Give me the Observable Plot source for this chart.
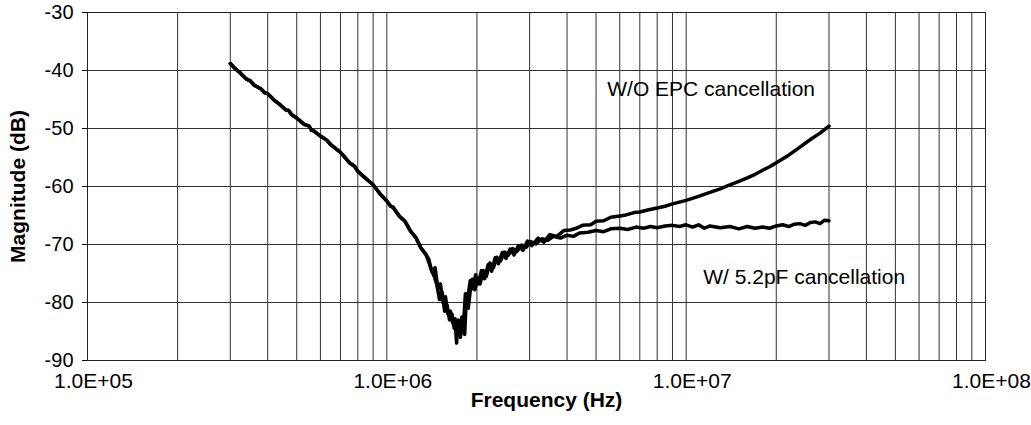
<!DOCTYPE html>
<html><head><meta charset="utf-8">
<script src="https://cdn.jsdelivr.net/npm/d3@7"></script>
<script src="https://cdn.jsdelivr.net/npm/@observablehq/plot@0.6"></script>
<style>
html,body{margin:0;padding:0;background:#fff;}
#chart svg{display:block;}
</style></head><body><div id="chart"></div>
<script>
// Axis ticks and labels
const xTicks = [1e5, 1e6, 1e7, 1e8];
const xTickLabels = ["1.0E+05", "1.0E+06", "1.0E+07", "1.0E+08"];
const yTicks = [-90, -80, -70, -60, -50, -40, -30];
const yTickLabels = ["-90", "-80", "-70", "-60", "-50", "-40", "-30"];
const xTitle = "Frequency (Hz)";
const yTitle = "Magnitude (dB)";

// Common part of both measured curves (Hz, dB)
const sharedFreq = [3.0e5,3.1e5,3.25e5,3.4e5,3.5e5,3.6e5,3.8e5,3.9e5,4.0e5,4.2e5,4.4e5,4.6e5,4.7e5,4.8e5,5.0e5,5.3e5,5.5e5,5.6e5,5.7e5,6.0e5,6.3e5,6.5e5,7.0e5,7.5e5,7.8e5,8.0e5,8.5e5,9.0e5,9.5e5,1.0e6,1.03e6,1.05e6,1.1e6,1.15e6,1.2e6,1.25e6,1.3e6,1.35e6];
const sharedDb   = [-38.8,-39.6,-40.5,-41.5,-41.8,-42.5,-43.2,-43.8,-44.0,-45.1,-45.9,-46.8,-46.9,-47.6,-48.2,-49.3,-49.6,-50.3,-50.4,-51.3,-52.0,-52.8,-54.1,-55.9,-56.5,-57.4,-58.6,-59.7,-61.3,-62.5,-63.4,-63.6,-65.1,-66.0,-67.7,-68.8,-70.6,-71.7];

// W/O EPC cancellation
const woFreq = [1.38e6,1.42e6,1.45e6,1.48e6,1.51e6,1.54e6,1.57e6,1.60e6,1.63e6,1.66e6,1.69e6,1.71e6,1.73e6,1.75e6,1.78e6,1.80e6,1.83e6,1.86e6,1.90e6,1.94e6,1.98e6,2.02e6,2.07e6,2.12e6,2.18e6,2.24e6,2.30e6,2.36e6,2.43e6,2.50e6,2.58e6,2.66e6,2.75e6,2.85e6,2.95e6,3.05e6,3.2e6,3.35e6,3.5e6,3.7e6,3.9e6,4.1e6,4.3e6,4.5e6,4.8e6,5.0e6,5.3e6,5.6e6,6.0e6,6.3e6,6.7e6,7.0e6,7.5e6,8.0e6,8.5e6,9.0e6,1.0e7,1.1e7,1.2e7,1.3e7,1.4e7,1.5e7,1.6e7,1.7e7,1.8e7,1.9e7,2.0e7,2.2e7,2.4e7,2.6e7,2.8e7,3.0e7];
const woDb   = [-73.0,-74.8,-74.0,-77.5,-76.8,-80.0,-79.0,-82.0,-81.5,-83.5,-82.8,-87.0,-83.0,-85.5,-82.5,-84.5,-78.5,-79.5,-76.2,-77.6,-75.2,-76.8,-74.5,-75.9,-73.5,-74.6,-72.3,-73.3,-71.4,-72.4,-70.8,-71.8,-70.2,-71.0,-69.4,-70.2,-68.9,-69.6,-68.3,-68.6,-67.6,-67.5,-67.2,-66.7,-66.6,-66.0,-65.9,-65.3,-65.1,-64.9,-64.5,-64.4,-64.0,-63.7,-63.4,-63.0,-62.4,-61.7,-61.0,-60.4,-59.7,-59.1,-58.5,-57.9,-57.2,-56.6,-55.9,-54.6,-53.2,-51.9,-50.8,-49.6];

// W/ 5.2pF cancellation
const wFreq = [1.38e6,1.41e6,1.44e6,1.47e6,1.50e6,1.53e6,1.56e6,1.59e6,1.62e6,1.65e6,1.68e6,1.72e6,1.76e6,1.79e6,1.82e6,1.84e6,1.87e6,1.90e6,1.93e6,1.97e6,2.01e6,2.05e6,2.10e6,2.15e6,2.21e6,2.27e6,2.33e6,2.40e6,2.47e6,2.55e6,2.63e6,2.72e6,2.82e6,2.92e6,3.02e6,3.15e6,3.3e6,3.45e6,3.6e6,3.8e6,4.0e6,4.2e6,4.4e6,4.7e6,5.0e6,5.3e6,5.6e6,6.0e6,6.4e6,6.8e6,7.2e6,7.6e6,8.0e6,8.5e6,9.0e6,9.5e6,1.0e7,1.05e7,1.1e7,1.15e7,1.2e7,1.3e7,1.4e7,1.5e7,1.6e7,1.7e7,1.8e7,1.9e7,2.0e7,2.1e7,2.2e7,2.3e7,2.4e7,2.5e7,2.6e7,2.7e7,2.8e7,2.9e7,3.0e7];
const wDb   = [-72.5,-74.5,-75.5,-77.0,-79.5,-78.2,-81.5,-80.5,-83.0,-82.0,-84.5,-83.5,-86.0,-84.0,-85.5,-80.0,-81.0,-78.0,-76.0,-77.8,-75.8,-76.8,-74.5,-75.5,-73.2,-74.0,-72.2,-72.8,-71.3,-71.8,-70.7,-71.2,-70.1,-70.5,-69.5,-69.9,-69.0,-69.3,-68.6,-68.9,-68.4,-68.6,-68.0,-67.9,-67.6,-67.8,-67.3,-67.2,-67.4,-67.0,-67.2,-66.9,-67.1,-66.8,-66.7,-66.9,-66.6,-67.0,-66.6,-67.2,-66.8,-67.1,-66.9,-67.3,-66.9,-67.2,-67.0,-67.2,-66.8,-66.6,-66.9,-66.5,-66.4,-66.7,-66.2,-66.1,-66.4,-65.8,-65.9];

// Annotations
const annoText = ["W/O EPC cancellation", "W/ 5.2pF cancellation"];
const annoFreq = [5.45e6, 1.14e7];
const annoDb   = [-43.3, -75.6];

const rows = [];
sharedFreq.forEach((f, i) => { rows.push({series: "wo", f, db: sharedDb[i]}); rows.push({series: "w", f, db: sharedDb[i]}); });
woFreq.forEach((f, i) => rows.push({series: "wo", f, db: woDb[i]}));
wFreq.forEach((f, i) => rows.push({series: "w", f, db: wDb[i]}));

const annotations = annoText.map((label, i) => ({label, f: annoFreq[i], db: annoDb[i]}));

const gridX = [];
for (const p of [1e5, 1e6, 1e7]) for (let k = 1; k <= 9; k++) gridX.push(k * p);
gridX.push(1e8);

const font = "Arial, 'Liberation Sans', sans-serif";

const chart = Plot.plot({
  width: 1031,
  height: 425,
  marginLeft: 87,
  marginRight: 46,
  marginTop: 12,
  marginBottom: 65,
  style: {fontFamily: font, background: "white", color: "black"},
  x: {type: "log", domain: [1e5, 1e8]},
  y: {domain: [-90, -30]},
  marks: [
    Plot.ruleX(gridX, {stroke: "#333", strokeWidth: 1}),
    Plot.ruleY(yTicks, {stroke: "#333", strokeWidth: 1}),
    Plot.frame({stroke: "#222", strokeWidth: 1}),
    Plot.line(rows, {x: "f", y: "db", z: "series", stroke: "black", strokeWidth: 3.5, strokeLinejoin: "round", strokeLinecap: "round"}),
    Plot.axisY({ticks: yTicks, tickSize: 5, tickPadding: 9, fontSize: 20, label: null,
      tickFormat: d => yTickLabels[yTicks.indexOf(d)]}),
    Plot.axisX({ticks: xTicks, tickSize: 0, tickPadding: 13, fontSize: 21, dx: 6, label: null,
      tickFormat: d => xTickLabels[xTicks.indexOf(d)]}),
    Plot.text([yTitle], {frameAnchor: "left", textAnchor: "middle", lineAnchor: "middle", rotate: -90, dx: -69, fontWeight: "bold", fontSize: 21}),
    Plot.text([xTitle], {frameAnchor: "bottom", textAnchor: "middle", lineAnchor: "middle", dx: 10, dy: 40, fontWeight: "bold", fontSize: 21}),
    Plot.text(annotations, {x: "f", y: "db", text: "label", textAnchor: "start", fontSize: 21})
  ]
});
document.getElementById("chart").appendChild(chart);
</script>
</body></html>
